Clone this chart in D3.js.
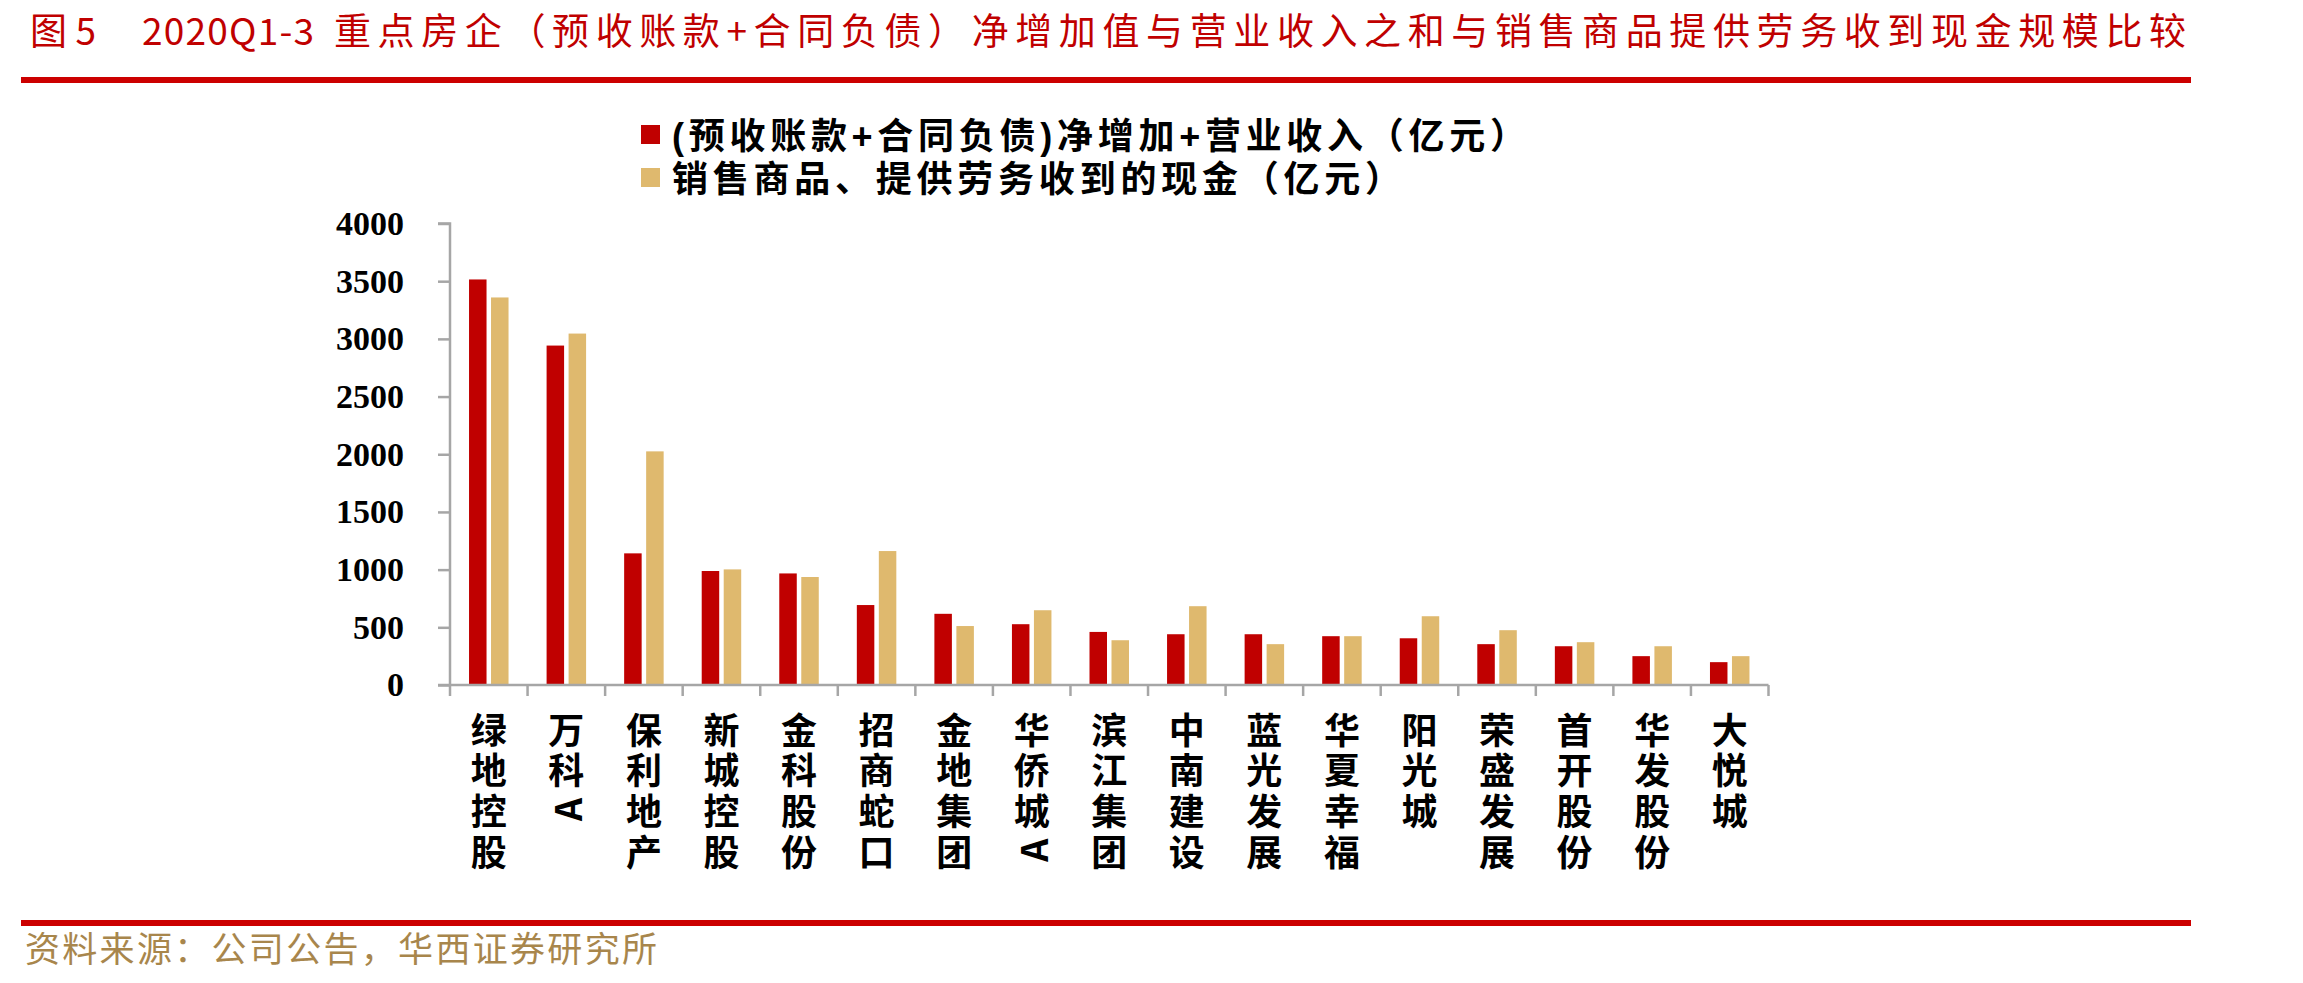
<!DOCTYPE html>
<html>
<head>
<meta charset="utf-8">
<script src="https://cdn.jsdelivr.net/npm/d3@7"></script>
<style>
  body { margin: 0; background: #fff; }
  .cjk { font-family: "Noto Sans CJK SC", "Noto Sans", sans-serif; }
  .legend text { font-family: "Liberation Sans", "Noto Sans CJK SC", sans-serif; }
  .y-axis text { font-family: "Liberation Serif", "DejaVu Serif", serif; font-weight: bold; font-size: 34px; fill: #000; }
</style>
</head>
<body>
<div class="chart"></div>
<script>
//----Data----
const categories = ['绿地控股', '万科A', '保利地产', '新城控股', '金科股份', '招商蛇口', '金地集团', '华侨城A', '滨江集团',
    '中南建设', '蓝光发展', '华夏幸福', '阳光城', '荣盛发展', '首开股份', '华发股份', '大悦城']
const netIncrease = [3515, 2942, 1141, 988, 967, 693, 617, 527, 460, 440, 440, 423, 405, 354, 336, 250, 198]
const cashReceived = [3359, 3046, 2025, 1002, 936, 1161, 511, 648, 388, 683, 354, 423, 596, 475, 371, 336, 250]
const seriesNames = ['(预收账款+合同负债)净增加+营业收入（亿元）', '销售商品、提供劳务收到的现金（亿元）']
const seriesColors = ['#C00000', '#DFB96E']
const yTicks = [0, 500, 1000, 1500, 2000, 2500, 3000, 3500, 4000]

// title pieces: figure no., period, subject
const titleParts = ['图5', '2020Q1-3', '重点房企（预收账款+合同负债）净增加值与营业收入之和与销售商品提供劳务收到现金规模比较']
const sourceText = '资料来源：公司公告，华西证券研究所'

//----Chart Initialization----
const W = 2303, H = 983
const plot = ({left: 450, right: 1768.5, top: 223.5, bottom: 685})
const labelTop = 730, labelStep = 40.7, labelSize = 36

const svg = d3.select(".chart").append("svg")
    .attr("width", W)
    .attr("height", H)

// header + footer
const titlePos = [[30, 66], [142, 172], [334, 1852]]
svg.append("text")
    .attr("class", "cjk")
    .attr("y", 45)
    .attr("font-size", 37)
    .attr("fill", "#C00000")
    .selectAll("tspan")
    .data(titleParts)
    .enter().append("tspan")
    .attr("x", (d, i) => titlePos[i][0])
    .attr("textLength", (d, i) => titlePos[i][1])
    .attr("lengthAdjust", "spacing")
    .text(d => d)

svg.append("rect").attr("x", 21).attr("y", 77).attr("width", 2170).attr("height", 6).attr("fill", "#CC0000")
svg.append("rect").attr("x", 21).attr("y", 920).attr("width", 2170).attr("height", 6).attr("fill", "#CC0000")

svg.append("text")
    .attr("class", "cjk")
    .attr("x", 25)
    .attr("y", 962)
    .attr("font-size", 35)
    .attr("fill", "#A8864C")
    .attr("textLength", 632)
    .attr("lengthAdjust", "spacing")
    .text(sourceText)

// legend
const legendWidths = [854, 729]
const legend = svg.selectAll(".legend")
    .data(seriesNames)
    .enter().append("g")
    .attr("class", "legend")
    .attr("transform", (d, i) => `translate(641, ${125 + i * 43})`)

legend.append("rect")
    .attr("width", 19)
    .attr("height", 19)
    .attr("fill", (d, i) => seriesColors[i])

legend.append("text")
    .attr("x", 31)
    .attr("y", 24)
    .attr("font-size", 36)
    .attr("font-weight", "bold")
    .attr("fill", "#000")
    .attr("textLength", (d, i) => legendWidths[i])
    .attr("lengthAdjust", "spacing")
    .text(d => d)

//----Scales----
const xScale = d3.scaleBand()
    .domain(categories)
    .range([plot.left, plot.right])

const groupScale = d3.scaleBand()
    .domain([0, 1])
    .range([0, 39.5])
    .paddingInner(0.2045)

const yScale = d3.scaleLinear()
    .domain([0, 4000])
    .range([plot.bottom, plot.top])

//----Bars----
const rows = categories.map((c, i) => ({company: c, values: [netIncrease[i], cashReceived[i]]}))

const groups = svg.selectAll(".group")
    .data(rows)
    .enter().append("g")
    .attr("class", "group")
    .attr("transform", d => `translate(${xScale(d.company) + xScale.bandwidth() / 2 - 19.75}, 0)`)

groups.selectAll("rect")
    .data(d => d.values)
    .enter().append("rect")
    .attr("x", (d, i) => groupScale(i))
    .attr("y", d => yScale(d))
    .attr("width", groupScale.bandwidth())
    .attr("height", d => yScale(0) - yScale(d))
    .attr("fill", (d, i) => seriesColors[i])

//----Axes----
const yAxis = d3.axisLeft(yScale)
    .tickValues(yTicks)
    .tickSize(12)
    .tickPadding(34)
    .tickFormat(d3.format("d"))

svg.append("g")
    .attr("class", "y-axis")
    .attr("transform", `translate(${plot.left}, 0)`)
    .call(yAxis)
    .call(g => g.selectAll("line, path").attr("stroke", "#A6A6A6").attr("stroke-width", 2.5))
    .call(g => g.select(".domain").attr("d", `M-12,${plot.top}H0V${plot.bottom}`))

const xAxis = d3.axisBottom(xScale).tickSize(0).tickFormat("")

const xg = svg.append("g")
    .attr("class", "x-axis")
    .attr("transform", `translate(0, ${plot.bottom})`)
    .call(xAxis)

xg.select(".domain")
    .attr("d", `M${plot.left - 12},0H${plot.right}`)
    .attr("stroke", "#A6A6A6")
    .attr("stroke-width", 2.5)

// tick marks between categories
const bounds = categories.map(c => xScale(c)).concat([xScale.range()[1]])
xg.selectAll(".sep")
    .data(bounds)
    .enter().append("line")
    .attr("class", "sep")
    .attr("x1", d => d).attr("x2", d => d)
    .attr("y1", 0).attr("y2", 11)
    .attr("stroke", "#A6A6A6")
    .attr("stroke-width", 2.5)

// vertical stacked category labels: CJK run in vertical writing mode, latin letters turned sideways
const isLatin = ch => /[A-Za-z]/.test(ch)

const labels = svg.selectAll(".xlabel")
    .data(categories)
    .enter().append("g")
    .attr("class", "xlabel")
    .attr("transform", d => `translate(${xScale(d) + xScale.bandwidth() / 2}, 0)`)

labels.append("text")
    .attr("class", "cjk")
    .attr("x", 0)
    .attr("y", labelTop - labelSize / 2)
    .attr("font-size", labelSize)
    .attr("font-weight", "bold")
    .attr("fill", "#000")
    .style("writing-mode", "vertical-rl")
    .style("text-orientation", "upright")
    .style("letter-spacing", (labelStep - labelSize) + "px")
    .text(d => Array.from(d).filter(ch => !isLatin(ch)).join(""))

labels.selectAll(".latin")
    .data(d => Array.from(d).map((ch, i) => ({ch, i})).filter(o => isLatin(o.ch)))
    .enter().append("text")
    .attr("class", "latin cjk")
    .attr("font-size", labelSize)
    .attr("font-weight", "bold")
    .attr("fill", "#000")
    .attr("text-anchor", "middle")
    .attr("dominant-baseline", "central")
    .attr("y", o => labelTop + o.i * labelStep - 2)
    .attr("transform", o => `rotate(-90, 0, ${labelTop + o.i * labelStep - 2})`)
    .text(o => o.ch)
</script>
</body>
</html>
